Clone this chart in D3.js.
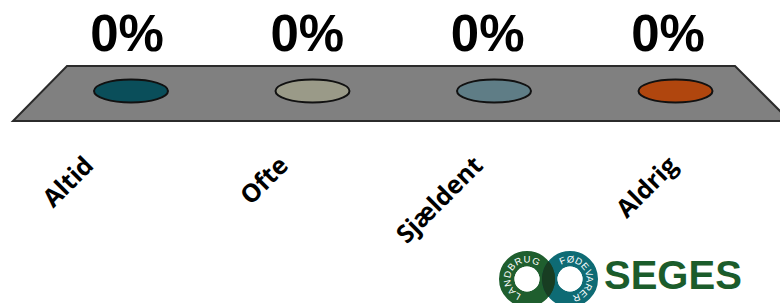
<!DOCTYPE html>
<html>
<head>
<meta charset="utf-8">
<script src="https://cdn.jsdelivr.net/npm/d3@7"></script>
<style>
html,body{margin:0;padding:0;background:#fff;}
svg{display:block;}
</style>
</head>
<body>
<svg id="chart" width="780" height="303"></svg>
<script>
// ---- data ----
const categories = ["Altid", "Ofte", "Sjældent", "Aldrig"];
const values = [0, 0, 0, 0];
const colors = ["#0a4e5a", "#9a9a88", "#5f7d86", "#b0460e"];

// ---- layout ----
const svg = d3.select("#chart");
const floorTop = 66, floorBottom = 121;
const baseY = 91;
const rx = 37, ry = 11.5;

const x = d3.scaleBand().domain(categories).range([40.25, 766.25]).padding(0);
const yH = d3.scaleLinear().domain([0, 1]).range([0, 60]);
const xValLabel = d3.scalePoint().domain(categories).range([127, 668]);
const xCatLabel = d3.scalePoint().domain(categories).range([95, 679]);

// floor parallelogram
svg.append("path")
  .attr("d", `M67,${floorTop} L735,${floorTop} L790,${floorBottom} L13,${floorBottom} Z`)
  .attr("fill", "#808080")
  .attr("stroke", "#2b2b2b")
  .attr("stroke-width", 2);

// cylinders (zero height -> ellipses)
const g = svg.append("g");
categories.forEach((c, i) => {
  const cx = x(c) + x.bandwidth() / 2;
  const h = yH(values[i]);
  const top = baseY - h;
  if (h > 0) {
    g.append("path")
      .attr("d", `M${cx - rx},${baseY} A${rx},${ry} 0 0 0 ${cx + rx},${baseY} L${cx + rx},${top} L${cx - rx},${top} Z`)
      .attr("fill", colors[i]).attr("stroke", "#111").attr("stroke-width", 1.5);
  }
  g.append("ellipse")
    .attr("cx", cx).attr("cy", top)
    .attr("rx", rx).attr("ry", ry)
    .attr("fill", colors[i])
    .attr("stroke", "#111")
    .attr("stroke-width", 2);
});

// value labels
const fmt = d3.format(".0%");
svg.append("g").selectAll("text")
  .data(categories)
  .join("text")
  .attr("x", d => xValLabel(d))
  .attr("y", (d, i) => 51 - yH(values[i]))
  .attr("text-anchor", "middle")
  .attr("font-family", "'Liberation Sans', Arial, sans-serif")
  .attr("font-weight", "bold")
  .attr("font-size", 51)
  .attr("fill", "#000")
  .text((d, i) => fmt(values[i]));

// category labels rotated
svg.append("g").selectAll("text")
  .data(categories)
  .join("text")
  .attr("transform", d => `translate(${xCatLabel(d)},167) rotate(-45)`)
  .attr("text-anchor", "end")
  .attr("font-family", "'Open Sans', 'Liberation Sans', Arial, sans-serif")
  .attr("font-weight", "bold")
  .attr("font-size", 25)
  .attr("fill", "#000")
  .text(d => d);

// ---- SEGES logo ----
const logo = svg.append("g");
const defs = svg.append("defs");
const ringR = 28, ringIn = 12.5;
const ringW = ringR - ringIn, ringMid = (ringR + ringIn) / 2;
const lc = [527, 279], rc = [570, 279];
function ring(c, color, clip) {
  const el = logo.append("circle")
    .attr("cx", c[0]).attr("cy", c[1]).attr("r", ringMid)
    .attr("fill", "none").attr("stroke", color).attr("stroke-width", ringW);
  if (clip) el.attr("clip-path", clip);
}
ring(lc, "#1f5e2e");
ring(rc, "#0e6b74");
defs.append("clipPath").attr("id", "clipL")
  .append("circle").attr("cx", lc[0]).attr("cy", lc[1]).attr("r", ringR);
defs.append("clipPath").attr("id", "clipR")
  .append("circle").attr("cx", rc[0]).attr("cy", rc[1]).attr("r", ringR);
ring(rc, "#183d22", "url(#clipL)");
ring(lc, "#183d22", "url(#clipR)");
[lc, rc].forEach(c => logo.append("circle").attr("cx", c[0]).attr("cy", c[1]).attr("r", ringIn).attr("fill", "#fff"));

function arcPath(c, r, startDeg, endDeg) {
  const s = startDeg * Math.PI / 180, e = endDeg * Math.PI / 180;
  const x0 = c[0] + r * Math.sin(s), y0 = c[1] - r * Math.cos(s);
  const x1 = c[0] + r * Math.sin(e), y1 = c[1] - r * Math.cos(e);
  const large = (endDeg - startDeg) > 180 ? 1 : 0;
  return `M${x0},${y0} A${r},${r} 0 ${large} 1 ${x1},${y1}`;
}
const tr = 16.5;
defs.append("path").attr("id", "pL").attr("d", arcPath(lc, tr, 200, 425));
defs.append("path").attr("id", "pR").attr("d", arcPath(rc, tr, -32, 200));
logo.append("text")
  .attr("font-family", "'Liberation Sans', Arial, sans-serif")
  .attr("font-size", 9.5).attr("fill", "#fff").attr("letter-spacing", 0.6)
  .append("textPath").attr("href", "#pL").attr("startOffset", "0%").text("LANDBRUG");
logo.append("text")
  .attr("font-family", "'Liberation Sans', Arial, sans-serif")
  .attr("font-size", 9.5).attr("fill", "#fff").attr("letter-spacing", 0)
  .append("textPath").attr("href", "#pR").attr("startOffset", "0%").text("FØDEVARER");

logo.append("text")
  .attr("x", 604).attr("y", 289)
  .attr("font-family", "'Liberation Sans', Arial, sans-serif")
  .attr("font-weight", "bold")
  .attr("font-size", 40)
  .attr("fill", "#1b5c2b")
  .text("SEGES");
</script>
</body>
</html>
